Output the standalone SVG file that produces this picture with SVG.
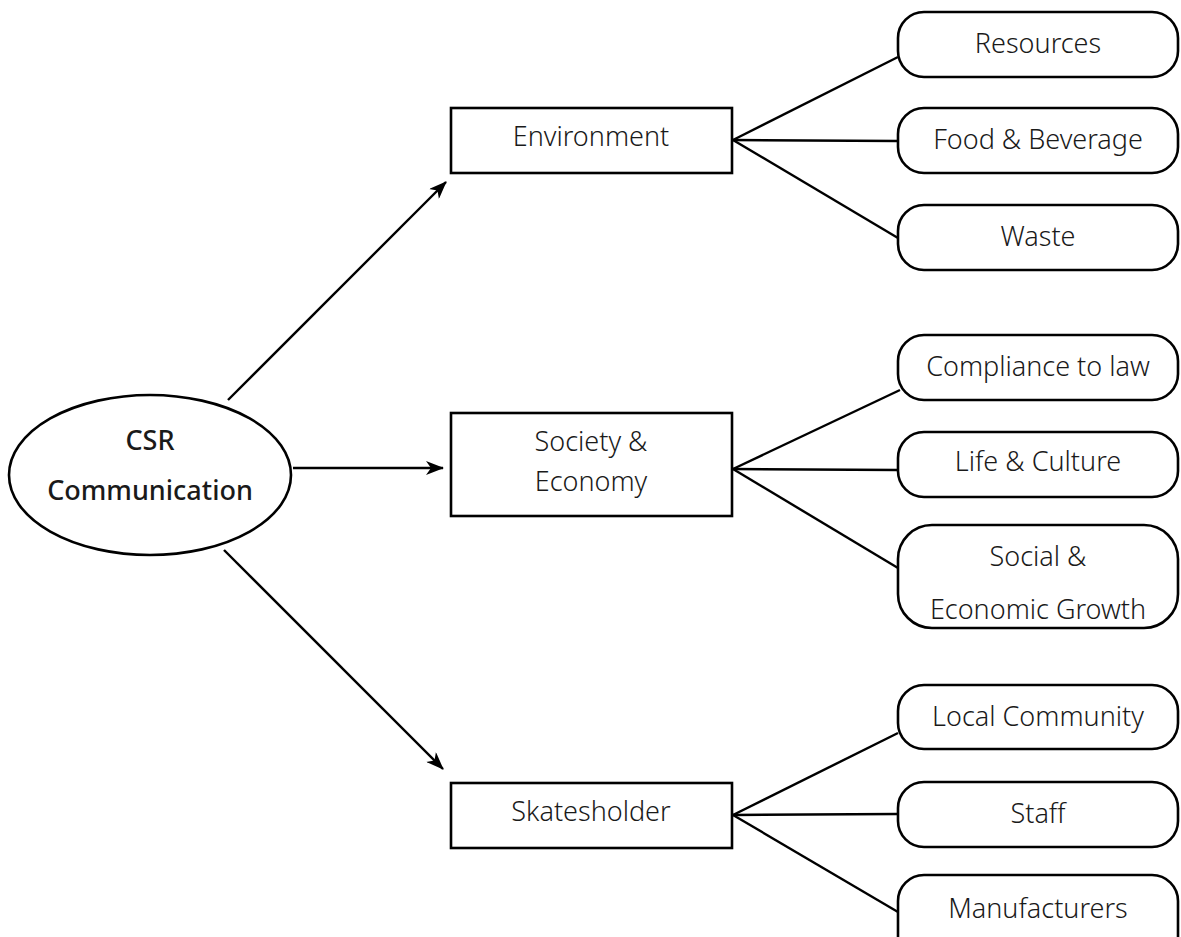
<svg xmlns="http://www.w3.org/2000/svg" width="1181" height="937" viewBox="0 0 1181 937">
<defs>
<style>
.n{fill:#fff;stroke:#000;stroke-width:2.6}
.t{font-family:"Noto Sans","Open Sans",sans-serif;font-size:27px;font-weight:300;fill:#1a1a1a;text-anchor:middle}
.b{font-weight:500}
.c{stroke:#000;stroke-width:2.4;fill:none}
.a{marker-end:url(#ah)}
</style>
<marker id="ah" markerWidth="20" markerHeight="14" refX="17" refY="7" orient="auto" markerUnits="userSpaceOnUse">
<path d="M0,0 L18,7 L0,14 L5,7 z" fill="#000"/>
</marker>
</defs>
<rect width="1181" height="937" fill="#fff"/>
<g id="connectors">
<line class="c a" x1="228" y1="400" x2="446" y2="182"/>
<line class="c a" x1="293" y1="468" x2="443" y2="468"/>
<line class="c a" x1="224" y1="550" x2="443" y2="769"/>
<line class="c" x1="733" y1="140" x2="898" y2="57"/>
<line class="c" x1="733" y1="140" x2="898" y2="141"/>
<line class="c" x1="733" y1="140" x2="898" y2="238"/>
<line class="c" x1="733" y1="469" x2="900" y2="390"/>
<line class="c" x1="733" y1="469" x2="898" y2="470"/>
<line class="c" x1="733" y1="469" x2="898" y2="568"/>
<line class="c" x1="733" y1="815" x2="898" y2="733"/>
<line class="c" x1="733" y1="815" x2="898" y2="814"/>
<line class="c" x1="733" y1="815" x2="898" y2="912"/>
</g>
<g id="csr">
<ellipse class="n" cx="150" cy="475" rx="141" ry="80"/>
<text class="t b" x="150" y="450">CSR</text>
<text class="t b" x="150" y="500">Communication</text>
</g>
<g id="environment">
<rect class="n" x="451" y="108" width="281" height="65"/>
<text class="t" x="591" y="146">Environment</text>
</g>
<g id="society">
<rect class="n" x="451" y="413" width="281" height="103"/>
<text class="t" x="591" y="451">Society &amp;</text>
<text class="t" x="591" y="491">Economy</text>
</g>
<g id="skatesholder">
<rect class="n" x="451" y="783" width="281" height="65"/>
<text class="t" x="591" y="821">Skatesholder</text>
</g>
<g id="resources">
<rect class="n" x="898" y="12" width="280" height="65" rx="26"/>
<text class="t" x="1038" y="53">Resources</text>
</g>
<g id="food">
<rect class="n" x="898" y="108" width="280" height="65" rx="26"/>
<text class="t" x="1038" y="149">Food &amp; Beverage</text>
</g>
<g id="waste">
<rect class="n" x="898" y="205" width="280" height="65" rx="26"/>
<text class="t" x="1038" y="246">Waste</text>
</g>
<g id="compliance">
<rect class="n" x="898" y="335" width="280" height="65" rx="26"/>
<text class="t" x="1038" y="376">Compliance to law</text>
</g>
<g id="life">
<rect class="n" x="898" y="432" width="280" height="65" rx="26"/>
<text class="t" x="1038" y="471">Life &amp; Culture</text>
</g>
<g id="social">
<rect class="n" x="898" y="525" width="280" height="103" rx="34"/>
<text class="t" x="1038" y="566">Social &amp;</text>
<text class="t" x="1038" y="619">Economic Growth</text>
</g>
<g id="local">
<rect class="n" x="898" y="685" width="280" height="64" rx="26"/>
<text class="t" x="1038" y="726">Local Community</text>
</g>
<g id="staff">
<rect class="n" x="898" y="782" width="280" height="65" rx="26"/>
<text class="t" x="1038" y="823">Staff</text>
</g>
<g id="manufacturers">
<rect class="n" x="898" y="875" width="280" height="90" rx="26"/>
<text class="t" x="1038" y="918">Manufacturers</text>
</g>
</svg>
